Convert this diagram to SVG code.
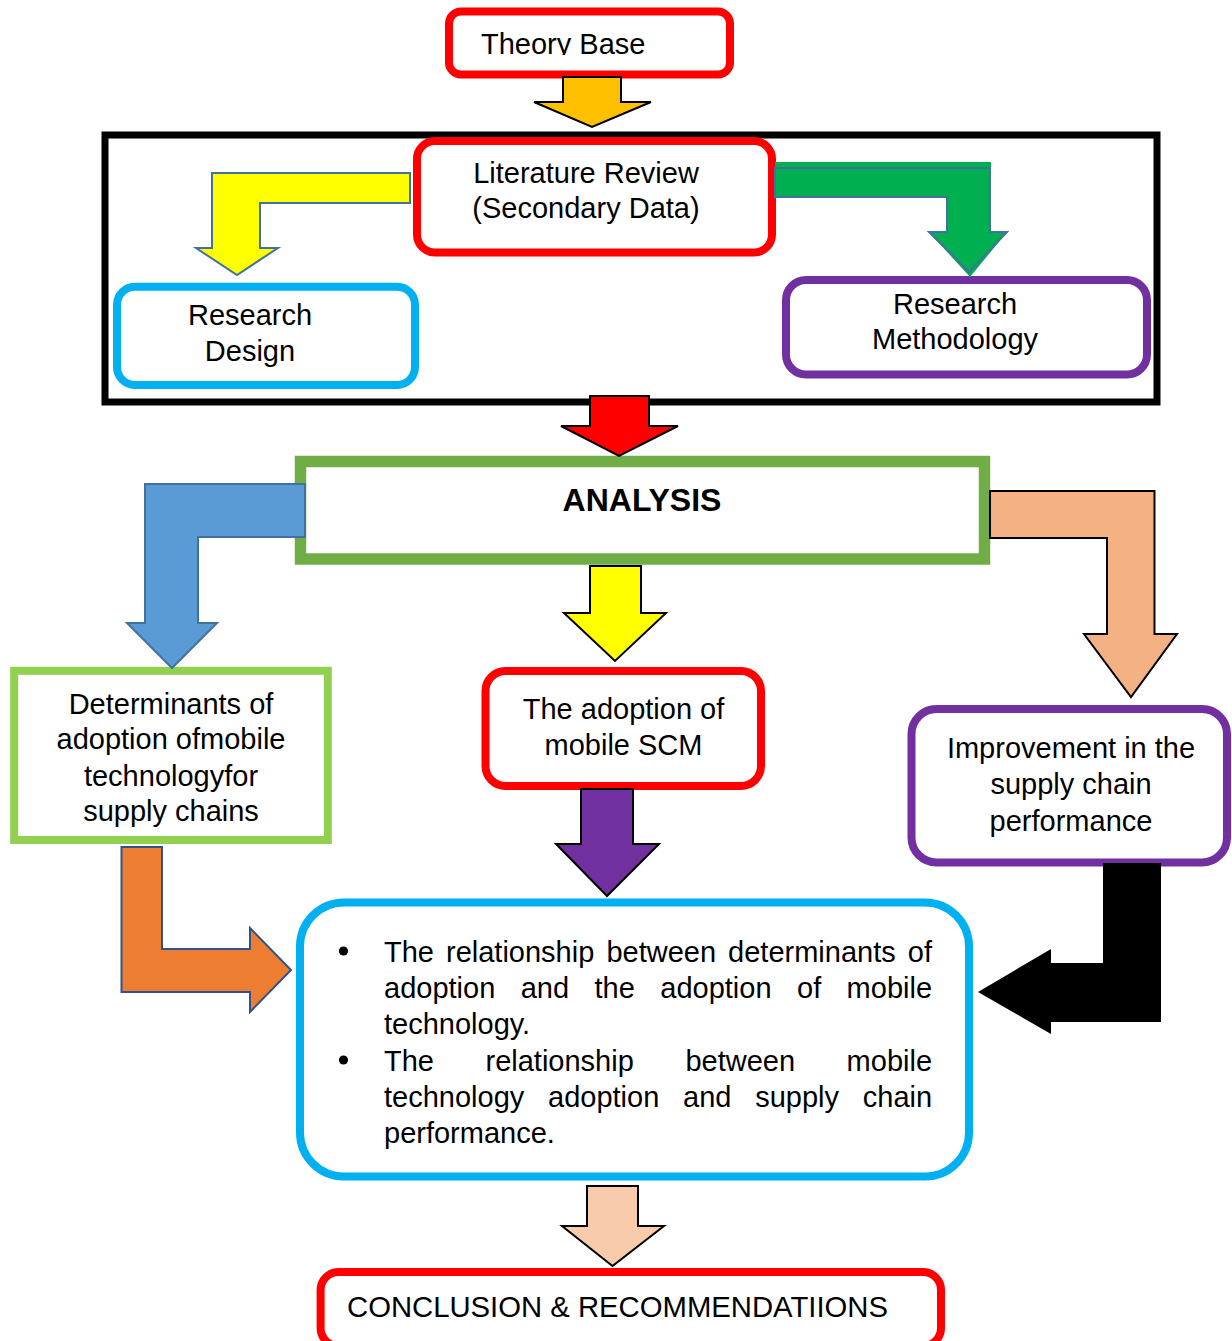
<svg xmlns="http://www.w3.org/2000/svg" width="1232" height="1341" viewBox="0 0 1232 1341">
  <style>
    text { font-family: "Liberation Sans", Arial, sans-serif; font-size: 29px; fill: #000; }
    .mid { text-anchor: middle; }
    .bold { font-weight: bold; font-size: 32px; }
    .box { fill: #fff; }
    .red { stroke: #FF0000; stroke-width: 8; }
    .cyan { stroke: #00B0F0; stroke-width: 8; }
    .purple { stroke: #7030A0; stroke-width: 8; }
    .blk { stroke: #000; stroke-width: 2; stroke-linejoin: miter; }
    .blu { stroke: #41719C; stroke-width: 2; stroke-linejoin: miter; }
  </style>
  <defs>
    <clipPath id="clipTheory">
      <rect x="440" y="0" width="300" height="55"/>
    </clipPath>
  </defs>
  <rect x="0" y="0" width="1232" height="1341" fill="#fff"/>

  <!-- frame grouping the literature-based steps -->
  <g id="frame">
    <rect x="105" y="135" width="1052" height="267" fill="#fff" stroke="#000" stroke-width="7"/>
  </g>

  <g id="theory-base">
    <rect class="box red" x="449" y="11.5" width="281" height="63" rx="12"/>
    <text x="481" y="53.5" clip-path="url(#clipTheory)">Theory Base</text>
  </g>

  <g id="literature-review">
    <rect class="box red" x="417" y="141" width="355" height="111.5" rx="18"/>
    <text class="mid" x="586" y="182.5">Literature Review</text>
    <text class="mid" x="586" y="217.5">(Secondary Data)</text>
  </g>

  <g id="research-design">
    <rect class="box cyan" x="117" y="286.7" width="298" height="98.3" rx="18"/>
    <text class="mid" x="250" y="324.5">Research</text>
    <text class="mid" x="250" y="360.5">Design</text>
  </g>

  <g id="research-methodology">
    <rect class="box purple" x="786" y="280" width="361" height="94.5" rx="20"/>
    <text class="mid" x="955" y="314">Research</text>
    <text class="mid" x="955" y="349">Methodology</text>
  </g>

  <g id="analysis">
    <rect x="300.5" y="461.5" width="684" height="97.5" fill="#fff" stroke="#70AD47" stroke-width="11.5"/>
    <text class="mid bold" x="642" y="510.5">ANALYSIS</text>
  </g>

  <g id="determinants">
    <rect x="14.2" y="670.8" width="313.6" height="169.2" fill="#fff" stroke="#92D050" stroke-width="8"/>
    <text class="mid" x="171" y="713.5">Determinants of</text>
    <text class="mid" x="171" y="749">adoption ofmobile</text>
    <text class="mid" x="171" y="785.5">technologyfor</text>
    <text class="mid" x="171" y="821">supply chains</text>
  </g>

  <g id="adoption">
    <rect class="box red" x="485.5" y="671" width="275.5" height="115" rx="20"/>
    <text class="mid" x="623.5" y="719">The adoption of</text>
    <text class="mid" x="623.5" y="755">mobile SCM</text>
  </g>

  <g id="improvement">
    <rect class="box purple" x="911.5" y="709" width="315.5" height="153.5" rx="25"/>
    <text class="mid" x="1071" y="757.5">Improvement in the</text>
    <text class="mid" x="1071" y="794">supply chain</text>
    <text class="mid" x="1071" y="830.5">performance</text>
  </g>

  <g id="relationships">
    <rect class="box cyan" x="300" y="902.5" width="669" height="274" rx="44"/>
    <circle cx="343.5" cy="951" r="4.6" fill="#000"/>
    <circle cx="343.5" cy="1060" r="4.6" fill="#000"/>
    <text y="961.5"><tspan x="384">The</tspan><tspan x="446">relationship</tspan><tspan x="606.4">between</tspan><tspan x="728.1">determinants</tspan><tspan x="907.8">of</tspan></text>
    <text y="997.8"><tspan x="384">adoption</tspan><tspan x="520.7">and</tspan><tspan x="594.5">the</tspan><tspan x="660.3">adoption</tspan><tspan x="797">of</tspan><tspan x="846.6">mobile</tspan></text>
    <text x="384" y="1034.2">technology.</text>
    <text y="1070.6"><tspan x="384">The</tspan><tspan x="485.5">relationship</tspan><tspan x="685.4">between</tspan><tspan x="846.6">mobile</tspan></text>
    <text y="1106.8"><tspan x="384">technology</tspan><tspan x="548">adoption</tspan><tspan x="683">and</tspan><tspan x="755.2">supply</tspan><tspan x="862.8">chain</tspan></text>
    <text x="384" y="1143">performance.</text>
  </g>

  <g id="conclusion">
    <rect class="box red" x="320.6" y="1272" width="620.4" height="74" rx="18"/>
    <text x="347" y="1317" textLength="541" lengthAdjust="spacingAndGlyphs">CONCLUSION &amp; RECOMMENDATIIONS</text>
  </g>

  <!-- block arrows linking the steps -->
  <g id="connectors">
    <path class="blk" fill="#FFC000" d="M563,77 L621,77 L621,102 L651,102 L592,127 L534,102 L563,102 Z"/>
    <path class="blu" fill="#FFFF00" d="M410,173 L212,173 L212,248 L196,248 L237,275 L278,248 L260,248 L260,203 L410,203 Z"/>
    <path fill="#00B050" d="M775,162 L991,162 L991,232 L1007,232 L970,277 L929,232 L947,232 L947,197 L775,197 Z"/>
    <path class="blu" fill="none" d="M775,168 L990,168 L990,232 L1007,232 L969,272 L929,232 L947,232 L947,197 L775,197 Z"/>
    <path class="blk" fill="#FF0000" d="M590,396 L649,396 L649,426 L678,426 L619,456 L561,426 L590,426 Z"/>
    <path class="blu" fill="#5B9BD5" d="M305,484 L145,484 L145,623 L127,623 L172,668 L217,623 L198,623 L198,537 L305,537 Z"/>
    <path class="blk" fill="#FFFF00" d="M590,566 L641,566 L641,613 L666,613 L615,661 L564,613 L590,613 Z"/>
    <path class="blk" fill="#F4B183" d="M990,491 L1154.5,491 L1154.5,634 L1177,634 L1131,697 L1084,634 L1107,634 L1107,538 L990,538 Z"/>
    <path class="blk" fill="#7030A0" d="M581,789 L633,789 L633,844 L659,844 L607,896 L556,844 L581,844 Z"/>
    <path fill="#ED7D31" stroke="#2F528F" stroke-width="2" d="M121.5,847 L162,847 L162,949 L250,949 L250,928 L291,970 L250,1012 L250,992 L121.5,992 Z"/>
    <path fill="#000" d="M1103,863 L1161,863 L1161,1022 L1051,1022 L1051,1034 L978,992 L1051,949 L1051,963 L1103,963 Z"/>
    <path class="blk" fill="#F8CBAD" d="M587,1186 L638,1186 L638,1226 L664,1226 L612.5,1266 L562,1226 L587,1226 Z"/>
  </g>
</svg>
